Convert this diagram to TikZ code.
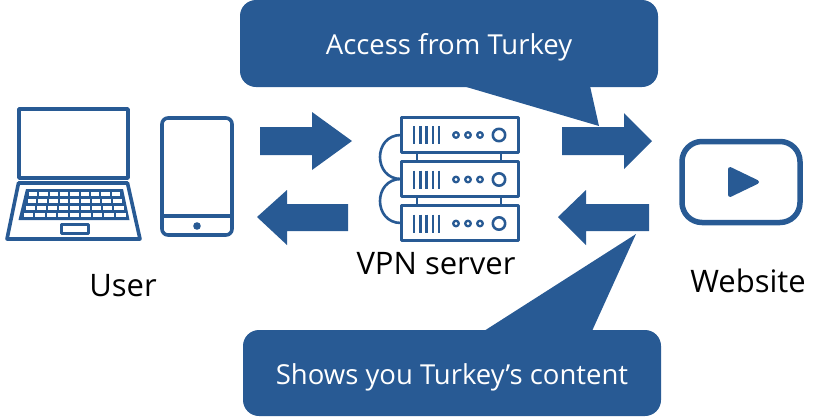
\documentclass[tikz,border=0pt]{standalone}
\usepackage{fontspec}
\setmainfont{Open Sans}
\definecolor{vpnblue}{RGB}{40,90,148}
\tikzset{
  fillshape/.style={fill=vpnblue,draw=none},
  icon/.style={draw=vpnblue,line width=#1,line join=round},
  icon/.default=3.6pt,
  label/.style={font=\fontsize{31}{36}\selectfont,text=black,inner sep=0pt},
  calltext/.style={font=\fontsize{27.5}{32}\selectfont,text=white,inner sep=0pt}
}
\newcommand{\serverunit}[1]{
  \begin{scope}[yshift=#1]
    \draw[icon=3pt] (401,-18) rectangle (518,17);
    \foreach \vx in {414,420.5,426.5,433,439} \draw[icon=2.6pt] (\vx,-9) -- (\vx,9);
    \foreach \dx in {456,468,480} \draw[icon=2.3pt] (\dx,0) circle (2.8);
    \draw[icon=2.6pt] (499,0) circle (6.2);
  \end{scope}
}
\begin{document}
\begin{tikzpicture}[x=1pt,y=-1pt]
\useasboundingbox (0,0) rectangle (831,416);
% callouts
\fill[fillshape,rounded corners=16pt] (240,0) rectangle (658,87);
\fill[fillshape] (463,86) -- (599,126) -- (590,86) -- cycle;
\fill[fillshape,rounded corners=16pt] (243,330) rectangle (661,416);
\fill[fillshape] (484,331) -- (636,234) -- (592,331) -- cycle;
\node[calltext] (c1) at (449,47) {Access from Turkey};
\node[calltext] (c2) at (452,377) {Shows you Turkey’s content};
% block arrows
\fill[fillshape] (260,127) -- (312,127) -- (312,112) -- (352,141) -- (312,170) -- (312,155) -- (260,155) -- cycle;
\fill[fillshape] (562,127) -- (624,127) -- (624,113) -- (652,141) -- (624,169) -- (624,155) -- (562,155) -- cycle;
\fill[fillshape] (348,204) -- (287,204) -- (287,190) -- (257,217) -- (287,245) -- (287,231) -- (348,231) -- cycle;
\fill[fillshape] (649,204) -- (586,204) -- (586,190) -- (558,217) -- (586,245) -- (586,231) -- (649,231) -- cycle;
% laptop
\draw[icon] (19,109) rectangle (128,178);
\draw[icon] (18.5,183) -- (127.5,183) -- (140,239) -- (7,239) -- cycle;
\fill[fillshape] (26,189) -- (123,189) -- (129.5,220) -- (18.5,220) -- cycle;
\foreach \row/\yy/\xl/\xr in {0/192/28/121,1/199/26.5/122.5,2/206/24.5/124.5,3/213/22.5/126.5}{
  \foreach \k in {0,...,8}{
    \pgfmathsetmacro{\kw}{(\xr-\xl)/9}
    \pgfmathsetmacro{\ka}{\xl+\k*\kw+1}
    \pgfmathsetmacro{\kb}{\xl+(\k+1)*\kw-1}
    \fill[white] (\ka,\yy) rectangle (\kb,\yy+4);
  }
}
\draw[icon=3pt] (61,224.5) rectangle (88,233);
% tablet
\draw[icon,rounded corners=6pt] (162,118) rectangle (232,235);
\draw[icon] (162,216) -- (232,216);
\fill[fillshape] (197,226) circle (3.8);
% server
\draw[icon=2.6pt] (417,152) -- (417,162);
\draw[icon=2.6pt] (501,152) -- (501,162);
\draw[icon=2.6pt] (417,197) -- (417,206);
\draw[icon=2.6pt] (501,197) -- (501,206);
\draw[icon=2.6pt] (401,135) .. controls (373,135) and (373,179) .. (401,179);
\draw[icon=2.6pt] (401,179) .. controls (373,179) and (373,223) .. (401,223);
\serverunit{-135pt}
\serverunit{-179.5pt}
\serverunit{-223.5pt}
% play icon
\draw[icon=5.5pt,rounded corners=20pt] (682,141.5) rectangle (800,222.5);
\fill[fillshape,draw=vpnblue,line width=4pt,line join=round] (730,169) -- (730,195) -- (757,182) -- cycle;
% labels
\node[label] (user) at (123,286) {User};
\node[label] (vpn) at (436,264) {VPN server};
\node[label] (web) at (748,281) {Website};
\end{tikzpicture}
\end{document}
